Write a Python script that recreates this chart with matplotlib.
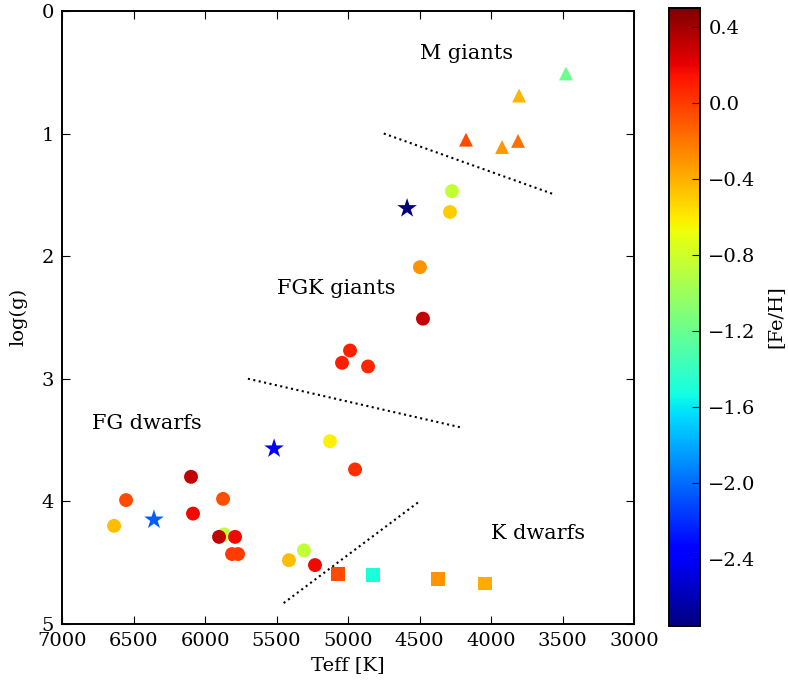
import numpy as np
import matplotlib
matplotlib.use('Agg')
import matplotlib.pyplot as plt

plt.rcParams['font.family'] = 'DejaVu Serif'
plt.rcParams['mathtext.fontset'] = 'dejavuserif'
plt.rcParams['xtick.direction'] = 'in'
plt.rcParams['ytick.direction'] = 'in'
plt.rcParams['xtick.top'] = True
plt.rcParams['ytick.right'] = True
plt.rcParams['xtick.major.size'] = 5.5
plt.rcParams['ytick.major.size'] = 5.5
plt.rcParams['xtick.major.pad'] = 6
plt.rcParams['ytick.major.pad'] = 6
plt.rcParams['axes.linewidth'] = 1.4

# dwarfs and giants (circles)
circ_teff = [4273, 4287, 4497, 4476, 4986, 5042, 4860, 5126, 4951, 6098, 6552,
             5874, 6636, 6084, 5867, 5902, 5790, 5811, 5769, 5413, 5308, 5231]
circ_logg = [1.47, 1.64, 2.09, 2.51, 2.77, 2.87, 2.90, 3.51, 3.74, 3.80, 3.99,
             3.98, 4.20, 4.10, 4.27, 4.29, 4.29, 4.43, 4.43, 4.48, 4.40, 4.52]
circ_feh = [-0.85, -0.5, -0.3, 0.3, 0.1, 0.1, 0.08, -0.62, 0.05, 0.3, -0.05,
            -0.07, -0.45, 0.17, -0.85, 0.32, 0.17, 0.0, 0.0, -0.45, -0.85, 0.17]

# K dwarfs (squares)
sq_teff = [5070, 4825, 4371, 4042]
sq_logg = [4.59, 4.60, 4.63, 4.67]
sq_feh = [-0.05, -1.5, -0.3, -0.38]

# M giants (triangles)
tri_teff = [3476, 3804, 4175, 3923, 3811]
tri_logg = [0.51, 0.69, 1.05, 1.11, 1.06]
tri_feh = [-1.2, -0.42, -0.05, -0.32, -0.18]

# metal-poor stars
star_teff = [4587, 5517, 6357]
star_logg = [1.61, 3.57, 4.15]
star_feh = [-2.75, -2.4, -2.05]

vmin, vmax = -2.75, 0.5

fig = plt.figure(figsize=(7.88, 6.83), dpi=100)
ax = fig.add_axes([0.0787, 0.0865, 0.7259, 0.8975])
cax = fig.add_axes([0.849, 0.0835, 0.0393, 0.905])

kw = dict(cmap='jet', vmin=vmin, vmax=vmax, edgecolors='none')
sc = ax.scatter(circ_teff, circ_logg, c=circ_feh, marker='o', s=100, **kw)
ax.scatter(sq_teff, sq_logg, c=sq_feh, marker='s', s=100, **kw)
ax.scatter(tri_teff, tri_logg, c=tri_feh, marker='^', s=100, **kw)
ax.scatter(star_teff, star_logg, c=star_feh, marker='*', s=220, **kw)

# dividing lines
ax.plot([4750, 3550], [1.0, 1.5], 'k:', lw=1.5)
ax.plot([5700, 4200], [3.0, 3.4], 'k:', lw=1.5)
ax.plot([5450, 4500], [4.83, 4.0], 'k:', lw=1.5)

ax.text(4500, 0.39, 'M giants', fontsize=15)
ax.text(5500, 2.31, 'FGK giants', fontsize=15)
ax.text(6790, 3.41, 'FG dwarfs', fontsize=15)
ax.text(4000, 4.31, 'K dwarfs', fontsize=15)

ax.set_xlim(7000, 3000)
ax.set_ylim(5, 0)
ax.set_xticks(np.arange(7000, 2999, -500))
ax.set_yticks(np.arange(0, 6, 1))
ax.tick_params(labelsize=14)
ax.set_xlabel('Teff [K]', fontsize=14, labelpad=4)
ax.set_ylabel('log(g)', fontsize=14, labelpad=10)

cb = fig.colorbar(sc, cax=cax)
cb.set_ticks([0.4, 0.0, -0.4, -0.8, -1.2, -1.6, -2.0, -2.4])
cb.ax.tick_params(labelsize=14, direction='in', length=5.5)
cb.outline.set_linewidth(1.4)
cb.set_label('[Fe/H]', fontsize=14, labelpad=8)

fig.savefig('out.png', dpi=100, facecolor='white')
